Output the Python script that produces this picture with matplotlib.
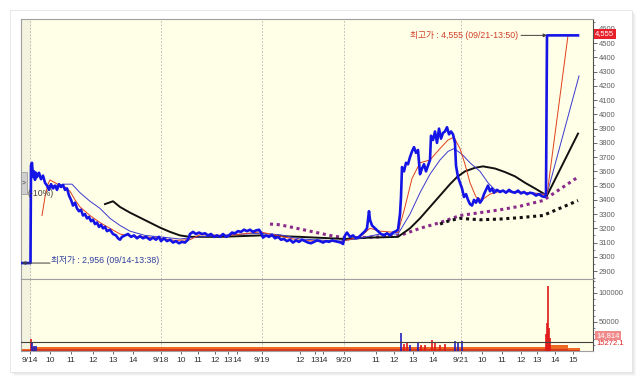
import matplotlib.pyplot as plt
from matplotlib.patches import Rectangle
from matplotlib.transforms import blended_transform_factory

plt.rcParams['font.family'] = ['Liberation Sans', 'Noto Sans CJK KR', 'DejaVu Sans']

# time axis is a sequential bar number (sessions packed side by side)
tick_bar = [30, 50, 71, 93, 113, 133, 161, 181, 198, 215, 228, 237, 262, 300, 315, 323,
            344, 376, 394, 413, 433, 461, 482, 502, 521, 537, 555, 573]
tick_lbl = ['9/14', '10', '11', '12', '13', '14', '9/18', '10', '11', '12', '13', '14',
            '9/19', '12', '13', '14', '9/20', '11', '12', '13', '14', '9/21', '10', '11',
            '12', '13', '14', '15']
day_bar = [30, 161, 262, 344, 461]

# close price
bar = [21, 30, 30.5, 31, 32, 33, 34, 35, 36, 37, 39, 41, 43, 45, 47, 49, 51, 53, 55, 57,
       59, 61, 63, 65, 67, 69, 71, 73, 75, 77, 79, 81, 83, 85, 87, 89, 91, 93, 95, 97,
       99, 101, 103, 105, 107, 110, 113, 116, 118, 120, 122, 125, 128, 131, 134, 137,
       140, 143, 146, 150, 153, 156, 159, 161, 164, 167, 170, 173, 176, 179, 182, 185,
       188, 190, 193, 196, 199, 202, 205, 208, 211, 214, 217, 220, 223, 226, 229, 232,
       235, 238, 241, 244, 247, 250, 253, 256, 259, 261, 263, 266, 269, 272, 275, 278,
       281, 284, 287, 290, 293, 296, 299, 302, 305, 308, 311, 314, 317, 320, 323, 326,
       329, 332, 335, 338, 341, 343, 345, 347, 350, 353, 356, 359, 362, 365, 367, 368,
       369, 370, 372, 375, 378, 381, 384, 387, 390, 393, 396, 398, 400, 401, 402, 404,
       406, 408, 410, 412, 414, 416, 418, 420, 422, 424, 426, 428, 430, 431, 433, 435,
       437, 439, 441, 443, 445, 447, 449, 451, 453, 455, 456, 458, 460, 462, 464, 466,
       468, 470, 472, 474, 476, 478, 480, 482, 484, 486, 488, 490, 492, 494, 497, 500,
       503, 506, 509, 512, 515, 518, 521, 524, 527, 530, 533, 536, 539, 542, 545, 546,
       547, 578]
close = [2956, 2956, 2956, 3640, 3660, 3560, 3600, 3540, 3590, 3560, 3590, 3545, 3570,
         3520, 3500, 3470, 3510, 3480, 3500, 3470, 3510, 3490, 3505, 3470, 3480, 3430,
         3400, 3360, 3380, 3340, 3320, 3330, 3290, 3300, 3270, 3280, 3250, 3260, 3230,
         3240, 3210, 3225, 3200, 3210, 3180, 3190, 3160, 3150, 3130, 3120, 3140, 3150,
         3160, 3140, 3150, 3130, 3145, 3130, 3140, 3120, 3135, 3120, 3140, 3110, 3130,
         3110, 3120, 3100, 3110, 3095, 3105, 3100, 3120, 3160, 3175, 3160, 3170, 3160,
         3165, 3150, 3160, 3140, 3150, 3140, 3160, 3140, 3150, 3170, 3165, 3180, 3175,
         3190, 3180, 3190, 3175, 3185, 3190, 3170, 3135, 3150, 3140, 3155, 3130, 3140,
         3120, 3125, 3110, 3120, 3100, 3115, 3105, 3120, 3110, 3100, 3095, 3105, 3115,
         3110, 3100, 3110, 3105, 3115, 3110, 3105, 3100, 3090, 3150, 3170, 3140, 3150,
         3130, 3140, 3160, 3180, 3200, 3260, 3320, 3260, 3220, 3200, 3180, 3160, 3150,
         3165, 3150, 3170, 3180, 3190, 3300, 3420, 3630, 3600, 3660, 3650, 3700, 3740,
         3770, 3730, 3750, 3580, 3620, 3650, 3600, 3640, 3680, 3850, 3820, 3880, 3800,
         3900, 3830, 3870, 3880, 3910, 3860, 3880, 3860, 3800, 3640, 3560, 3520, 3480,
         3420, 3440, 3400, 3370, 3360, 3400, 3380, 3410, 3380, 3400, 3440, 3470, 3500,
         3460, 3480, 3450, 3470, 3455, 3465, 3450, 3470, 3455, 3450, 3465, 3445, 3455,
         3440, 3450, 3445, 3430, 3440, 3425, 3420, 3440, 4555, 4555]

# moving averages
ma_red_bar = [42, 45, 48, 50, 55, 60, 65, 70, 75, 80, 90, 100, 110, 120, 130, 145, 160,
              175, 190, 200, 230, 260, 280, 300, 340, 360, 370, 380, 398, 405, 412, 420,
              430, 440, 448, 454, 460, 465, 470, 476, 482, 490, 500, 520, 547, 568]
ma_red = [3290, 3420, 3510, 3540, 3520, 3500, 3490, 3460, 3400, 3350, 3290, 3240, 3200,
          3160, 3145, 3140, 3130, 3115, 3120, 3155, 3150, 3175, 3145, 3115, 3105, 3140,
          3200, 3180, 3170, 3350, 3550, 3660, 3680, 3760, 3820, 3840, 3760, 3650, 3520,
          3420, 3400, 3440, 3460, 3455, 3435, 4555]
ma_blue_bar = [47, 55, 65, 72, 80, 90, 100, 110, 120, 130, 145, 160, 180, 200, 230, 260,
               280, 300, 340, 360, 380, 398, 410, 420, 430, 440, 448, 454, 462, 470, 480,
               488, 495, 510, 530, 547, 579]
ma_blue = [3500, 3500, 3510, 3510, 3450, 3390, 3340, 3270, 3220, 3180, 3150, 3140, 3125,
           3140, 3155, 3165, 3155, 3125, 3110, 3130, 3160, 3160, 3300, 3450, 3580, 3680,
           3740, 3760, 3720, 3660, 3600, 3520, 3470, 3455, 3450, 3440, 4270]
ma_black_bar = [105, 113, 120, 130, 140, 150, 160, 170, 180, 190, 220, 260, 300, 345, 370,
                398, 410, 420, 430, 440, 450, 457, 465, 475, 483, 495, 505, 515, 525, 535,
                547, 578]
ma_black = [3370, 3390, 3350, 3310, 3275, 3240, 3205, 3175, 3150, 3140, 3140, 3150, 3140,
            3125, 3135, 3140, 3200, 3270, 3350, 3430, 3510, 3560, 3600, 3625, 3635, 3620,
            3595, 3565, 3520, 3480, 3430, 3865]
ma_purple_bar = [270, 280, 290, 300, 310, 320, 330, 343, 360, 380, 400, 420, 440, 460, 480,
                 500, 520, 543, 578]
ma_purple = [3230, 3225, 3210, 3195, 3180, 3165, 3150, 3135, 3135, 3140, 3150, 3200, 3240,
             3290, 3310, 3330, 3355, 3395, 3560]
ma_dot_bar = [440, 450, 460, 470, 480, 500, 520, 543, 578]
ma_dot = [3230, 3255, 3270, 3265, 3260, 3265, 3275, 3290, 3395]

# volume
vol_bar = [31, 32, 34, 36, 401, 404, 407, 410, 418, 421, 425, 432, 435, 440, 445, 455,
           458, 462, 546, 547, 548, 549, 550]
vol_val = [21000, 14000, 9000, 8000, 31000, 12000, 15000, 11000, 14000, 10000, 11000,
           19000, 13000, 11000, 12000, 17000, 16000, 17000, 30000, 48000, 112000, 40000,
           22000]
vol_up = [1, 0, 0, 0, 0, 1, 1, 0, 0, 1, 1, 1, 1, 1, 1, 0, 0, 0, 1, 1, 1, 1, 1]
band_bar = [21, 30, 31, 545, 546, 568, 580]
band_val = [3000, 3000, 6500, 6500, 9500, 5000, 5000]
vol_line = 15272.1

W, H = 643, 382
fig = plt.figure(figsize=(W / 100, H / 100), dpi=100)

# card with soft shadow
for i, a in enumerate([0.05, 0.06, 0.08, 0.10]):
    off = 4 - i
    fig.patches.append(Rectangle(((10 + off) / W, 1 - (372 + off) / H), 622 / W, 362 / H,
                                 transform=fig.transFigure, facecolor='#888888',
                                 edgecolor='none', alpha=a, zorder=-2))
fig.patches.append(Rectangle((10 / W, 1 - 372 / H), 622 / W, 362 / H,
                             transform=fig.transFigure, facecolor='white',
                             edgecolor='#e4e4e4', lw=0.6, zorder=-1))

ax = fig.add_axes([21 / W, 1 - 279 / H, 572 / W, 260 / H])
axv = fig.add_axes([21 / W, 1 - 351 / H, 572 / W, 72 / H], sharex=ax)
bg = '#fffee6'
for a in (ax, axv):
    a.set_facecolor(bg)
    a.axvspan(21, 30, color='#f3f3df', zorder=0)
    for d in day_bar:
        a.axvline(d, color='#b4b4b4', lw=0.6, ls=(0, (2, 2)), zorder=1)
    for s in ('top', 'left', 'bottom'):
        a.spines[s].set_color('#a0a0a0')
        a.spines[s].set_linewidth(0.8)
    a.spines['right'].set_color('#505050')
    a.spines['right'].set_linewidth(0.8)

# price panel
ax.plot(ma_purple_bar, ma_purple, color='#8a2a8a', lw=2.2, ls=(0, (1, 1.2)), zorder=3)
ax.plot(ma_dot_bar, ma_dot, color='#111111', lw=2.2, ls=(0, (1, 1.2)), zorder=3)
ax.plot(ma_black_bar, ma_black, color='#111111', lw=1.4, zorder=3)
ax.plot(ma_blue_bar, ma_blue, color='#3a3ad0', lw=0.7, zorder=4)
ax.plot(ma_red_bar, ma_red, color='#e0401c', lw=0.7, zorder=4)
ax.plot(bar, close, color='#1414e6', lw=1.9, zorder=5)

ax.set_xlim(21, 593)
ax.set_ylim(2844, 4670)
ax.yaxis.tick_right()
ax.set_yticks(range(2900, 4700, 100))
ax.set_yticks(range(2850, 4700, 50), minor=True)
ax.tick_params(axis='y', which='major', direction='out', length=3, width=0.6,
               labelsize=5.5, labelcolor='#606060', color='#505050', pad=1)
ax.tick_params(axis='y', which='minor', direction='out', length=1.5, width=0.5,
               color='#505050')
ax.tick_params(axis='x', which='both', bottom=False, labelbottom=False)

ax.annotate('', xy=(547, 4555), xytext=(521, 4555),
            arrowprops=dict(arrowstyle='-|>', color='#404040', lw=0.7,
                            mutation_scale=5, shrinkA=0, shrinkB=0), zorder=6)
ax.text(518, 4555, '최고가 : 4,555 (09/21-13:50)', color='#d0402c', fontsize=6.3,
        ha='right', va='center', zorder=6)
ax.annotate('', xy=(22, 2956), xytext=(50, 2956),
            arrowprops=dict(arrowstyle='-|>', color='#404040', lw=0.7,
                            mutation_scale=5, shrinkA=0, shrinkB=0), zorder=6)
ax.text(51, 2975, '최저가 : 2,956 (09/14-13:38)', color='#3040a0', fontsize=6.3,
        ha='left', va='center', zorder=6)
ax.text(28, 3441, '(-10%)', color='#404040', fontsize=6.3, ha='left', va='center', zorder=6)
ax.add_patch(Rectangle((21, 3440), 6, 155, facecolor='#cfcfcf', edgecolor='#909090',
                       lw=0.5, zorder=7))
ax.text(24, 3517, '>', fontsize=5, ha='center', va='center', color='#404040', zorder=8)

tr = blended_transform_factory(ax.transAxes, ax.transData)
ax.text(1.004, 4565, '4,555', transform=tr, fontsize=5.5, color='white', ha='left',
        va='center', clip_on=False, zorder=9,
        bbox=dict(boxstyle='square,pad=0.15', facecolor='#e8202a', edgecolor='none'))

# volume panel
axv.fill_between(band_bar, 0, band_val, step='post', color='#ec6a24', lw=0, zorder=2)
axv.fill_between(band_bar, 0, [v * 0.45 for v in band_val], step='post', color='#d8381c',
                 lw=0, zorder=2)
axv.vlines(vol_bar, 0, vol_val, lw=1.2, zorder=3,
           colors=['#e01818' if u else '#2020c0' for u in vol_up])
axv.axhline(vol_line, color='#404040', lw=0.8, zorder=4)
axv.set_ylim(0, 124000)
axv.yaxis.tick_right()
axv.set_yticks([50000, 100000])
axv.set_yticklabels(['50000', '100000'])
axv.set_yticks(range(10000, 124000, 10000), minor=True)
axv.tick_params(axis='y', which='major', direction='out', length=3, width=0.6,
                labelsize=5.5, labelcolor='#606060', color='#505050', pad=1)
axv.tick_params(axis='y', which='minor', direction='out', length=1.5, width=0.5,
                color='#505050')
trv = blended_transform_factory(axv.transAxes, axv.transData)
axv.text(1.006, 27000, '14,814', transform=trv, fontsize=5.5, color='white', ha='left',
         va='center', clip_on=False, zorder=9,
         bbox=dict(boxstyle='square,pad=0.15', facecolor='#f08a8a', edgecolor='none'))
axv.text(1.006, vol_line - 3000, '15272.1', transform=trv, fontsize=5.5,
         color='#e02020', ha='left', va='center', clip_on=False, zorder=9)

axv.set_xticks(tick_bar)
axv.set_xticklabels(tick_lbl)
axv.tick_params(axis='x', direction='out', length=2.5, width=0.6, labelsize=6,
                labelcolor='#303030', color='#505050', pad=1.5)

fig.savefig('out.png', dpi=100)
